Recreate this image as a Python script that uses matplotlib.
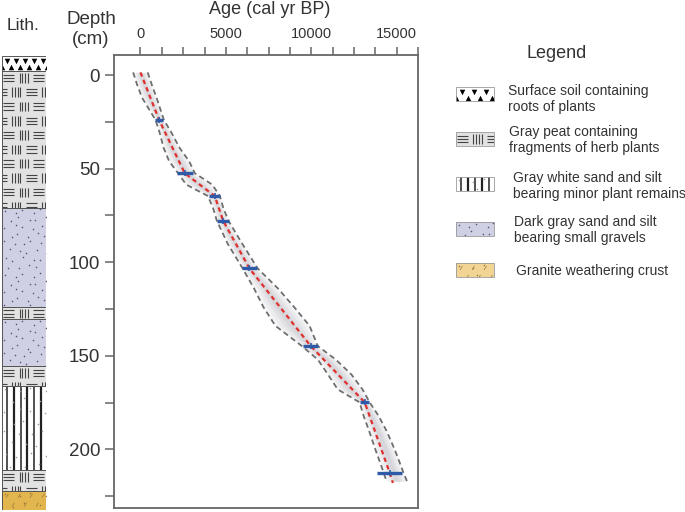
import numpy as np
import matplotlib
matplotlib.use("Agg")
import matplotlib.pyplot as plt
from matplotlib.patches import Rectangle
from matplotlib.collections import LineCollection

plt.rcParams['font.family'] = ['Liberation Sans', 'DejaVu Sans']

# dated levels (depth cm, calibrated age, 1-sigma half width)
date_depth = [23.9, 52.4, 64.6, 77.8, 103.3, 144.8, 174.9, 212.5]
date_age = [1090, 2590, 4350, 4840, 6380, 9970, 13130, 14590]
date_err = [240, 460, 320, 350, 440, 450, 270, 730]

# weighted mean age-depth line
model_depth = [-1.5, 23.9, 52.4, 64.6, 77.8, 103.3, 144.8, 174.9, 212.5, 218]
model_age = [0, 1090, 2590, 4350, 4840, 6380, 9970, 13130, 14590, 14780]

# 95% envelope
env_depth = [-1.5, 5, 12, 23.9, 31, 39, 46, 52.4, 58.5, 64.6, 71, 77.8, 90,
             103.3, 114, 124, 134, 144.8, 152, 160, 168, 174.9, 182, 190,
             200, 212.5, 217]
env_lo = [-430, -200, 90, 880, 1130, 1360, 1680, 2200, 2680, 3950, 4250, 4470,
          5100, 5980, 6650, 7200, 7900, 9450, 10380, 10980, 11550, 12830,
          13060, 13380, 13750, 14240, 14400]
env_hi = [420, 660, 940, 1370, 1830, 2300, 2850, 3180, 4200, 4650, 4850, 5150,
          5950, 6860, 8050, 9000, 9900, 10380, 11430, 12350, 13000, 13420,
          13930, 14400, 14880, 15400, 15600]

# lithology column
layer_top = [-10.3, -2.2, 71.0, 123.8, 130.5, 155.5, 166.1, 211.1, 222.1]
layer_bot = [-2.2, 71.0, 123.8, 130.5, 155.5, 166.1, 211.1, 222.1, 232.4]
layer_kind = ["soil", "peat", "sand", "peat", "sand", "peat", "white", "peat", "granite"]

legend_kind = ["soil", "peat", "white", "sand", "granite"]
legend_text = ["Surface soil containing\nroots of plants",
               "Gray peat containing\nfragments of herb plants",
               "Gray white sand and silt\nbearing minor plant remains",
               "Dark gray sand and silt\nbearing small gravels",
               "Granite weathering crust"]

TXT = "#333333"
AX = "#666666"


def draw_pattern(ax, kind, x0, x1, y0, y1, sx, sy, swatch=False):
    """Fill a box with a lithology pattern; sx, sy = data units per pixel."""
    face = {"soil": "white", "peat": "#e2e2e2", "white": "white",
            "sand": "#cfd0e4", "granite": "#f2d595" if swatch else "#e3b54f"}[kind]
    bg = Rectangle((x0, y0), x1 - x0, y1 - y0, facecolor=face,
                   edgecolor="none", zorder=1)
    ax.add_patch(bg)
    segs, widths = [], []
    w_px = (x1 - x0) / sx
    h_px = (y1 - y0) / sy
    if kind == "peat":
        for r in range(int(h_px / 14.3) + 2):
            yb = y0 + (2 + r * 14.3) * sy
            off = -7.5 if r % 2 else 0
            for k in range(-1, int(w_px / 15) + 3):
                xb = x0 + (1 + off + k * 15) * sx
                if k % 2 == 0:
                    for j in range(3):
                        yy = yb + (1.5 + j * 3.2) * sy
                        segs.append([(xb, yy), (xb + 11 * sx, yy)])
                else:
                    for j in range(4):
                        xx = xb + (1.5 + j * 2.8) * sx
                        segs.append([(xx, yb), (xx, yb + 9.5 * sy)])
        widths = 0.8
        color = "#444444"
    elif kind == "white":
        n = 6 if not swatch else 5
        for j in range(n):
            xx = x0 + (j + 0.7) * (w_px / (n + 0.4)) * sx
            segs.append([(xx, y0), (xx, y1)])
        widths = [1.6 if j % 2 else 1.1 for j in range(n)]
        color = "#222222"
    elif kind == "granite":
        for r in range(int(h_px / 9) + 1):
            for k in range(int(w_px / 12) + 1):
                xx = x0 + (4 + k * 12 + (r % 2) * 6) * sx
                yy = y0 + (3 + r * 9) * sy
                segs.append([(xx, yy + 4 * sy), (xx + 2.5 * sx, yy)])
        widths = 0.5
        color = "#9a7a3a"
    if segs:
        lc = LineCollection(segs, colors=color, linewidths=widths, zorder=2)
        ax.add_collection(lc)
        lc.set_clip_path(bg)
    if kind in ("sand", "granite", "white"):
        jit = [0, 3, -2, 4, -3, 1, 2, -4]
        px = 9 if kind == "sand" else 13
        py = 8 if kind == "sand" else 11
        xs, ys = [], []
        for r in range(int(h_px / py) + 1):
            for k in range(int(w_px / px) + 1):
                xs.append(x0 + (3 + k * px + (r % 2) * px / 2 + jit[(r + k) % 8] * 0.5) * sx)
                ys.append(y0 + (3 + r * py + jit[(r * 3 + k) % 8] * 0.6) * sy)
        col = {"sand": "#555577", "granite": "#9a7a3a", "white": "#999999"}[kind]
        sc = ax.scatter(xs, ys, s=1.3, color=col, linewidths=0, zorder=2)
        sc.set_clip_path(bg)
    if kind == "soil":
        step = 9 if not swatch else 12
        n = int(w_px / step) + 1
        xs = [x0 + (step / 2 + step * k) * sx for k in range(n)]
        ax.scatter(xs, [y0 + 4.5 * sy] * n, marker="v", s=16, color="black",
                   linewidths=0, zorder=2).set_clip_path(bg)
        xs2 = [x0 + (step * k) * sx for k in range(n + 1)]
        ax.scatter(xs2, [y0 + 10.5 * sy] * (n + 1), marker="^", s=16, color="black",
                   linewidths=0, zorder=2).set_clip_path(bg)
    edge = "#999999" if swatch else "#555555"
    ax.add_patch(Rectangle((x0, y0), x1 - x0, y1 - y0, facecolor="none",
                           edgecolor=edge, lw=0.6 if swatch else 0.7, zorder=3))


fig = plt.figure(figsize=(6.85, 5.12), dpi=100)

# ---- main age-depth panel
ax = fig.add_axes([114 / 685, 4 / 512, 304 / 685, 453 / 512])
ax.set_xlim(-1550, 16250)
ax.set_ylim(231.4, -10.8)

lo = np.array(env_lo, dtype=float)
hi = np.array(env_hi, dtype=float)
mid = (lo + hi) / 2
half = (hi - lo) / 2
for frac, col in [(1.0, "#f4f4f6"), (0.75, "#ebebee"), (0.5, "#e1e1e5"), (0.25, "#d6d6db")]:
    ax.fill_betweenx(env_depth, mid - frac * half, mid + frac * half,
                     color=col, lw=0, zorder=1)
ax.plot(env_lo, env_depth, color="#6e6e6e", lw=1.3, ls=(0, (3, 2)), zorder=2)
ax.plot(env_hi, env_depth, color="#6e6e6e", lw=1.3, ls=(0, (3, 2)), zorder=2)
ax.plot(model_age, model_depth, color="#e0302e", lw=1.6, ls=(0, (2, 1.6)), zorder=3)
ax.errorbar(date_age, date_depth, xerr=date_err, fmt="none", ecolor="#2f5aa8",
            elinewidth=2.4, capsize=0, zorder=4)
ax.errorbar(date_age, date_depth, yerr=1.6, fmt="none", ecolor="#2f5aa8",
            elinewidth=1.2, capsize=0, zorder=4)

ax.xaxis.tick_top()
ax.set_xticks(np.arange(0, 16251, 1250))
ax.set_xticklabels(["0" if v == 0 else (str(v) if v % 5000 == 0 else "")
                    for v in range(0, 16251, 1250)])
ax.set_yticks(np.arange(0, 226, 25))
ax.set_yticklabels([str(v) if v % 50 == 0 else "" for v in range(0, 226, 25)])
ax.tick_params(axis="x", length=6, width=1.1, color=AX, pad=4, labelsize=10.5,
               labelcolor=TXT)
ax.tick_params(axis="y", length=6.5, width=1.1, color=AX, pad=3.5, labelsize=13.5,
               labelcolor=TXT)
for s in ax.spines.values():
    s.set_color(AX)
    s.set_linewidth(1.3)

fig.text(270 / 685, 1 - 10 / 512, "Age (cal yr BP)", ha="center", va="center",
         fontsize=13, color=TXT)
fig.text(91 / 685, 1 - 20 / 512, "Depth", ha="center", va="center",
         fontsize=13.5, color=TXT)
fig.text(91 / 685, 1 - 39 / 512, "(cm)", ha="center", va="center",
         fontsize=13.5, color=TXT)
fig.text(23 / 685, 1 - 25 / 512, "Lith.", ha="center", va="center",
         fontsize=12.5, color=TXT)

# ---- lithology column
lax = fig.add_axes([2 / 685, 2 / 512, 44 / 685, 454 / 512])
lax.set_xlim(0, 1)
lax.set_ylim(232.4, -10.3)
lax.axis("off")
dpp = (232.4 + 10.3) / 454
for kind, top, bot in zip(layer_kind, layer_top, layer_bot):
    draw_pattern(lax, kind, 0, 1, top, bot, 1 / 44, dpp)

# ---- legend (pixel overlay)
gax = fig.add_axes([0, 0, 1, 1], facecolor="none")
gax.set_xlim(0, 685)
gax.set_ylim(512, 0)
gax.axis("off")
gax.text(557, 53, "Legend", ha="center", va="center", fontsize=13, color=TXT)
sw_top = [87, 132, 177, 222, 263]
txt_x = [508, 509, 513, 514, 516]
txt_y = [99, 140, 186, 230, 271]
for kind, label, yt, tx, ty in zip(legend_kind, legend_text, sw_top, txt_x, txt_y):
    draw_pattern(gax, kind, 456, 494, yt, yt + 14, 1, 1, swatch=True)
    gax.text(tx, ty, label, ha="left", va="center", fontsize=10, color=TXT,
             linespacing=1.2)

fig.savefig("out.png", dpi=100)
